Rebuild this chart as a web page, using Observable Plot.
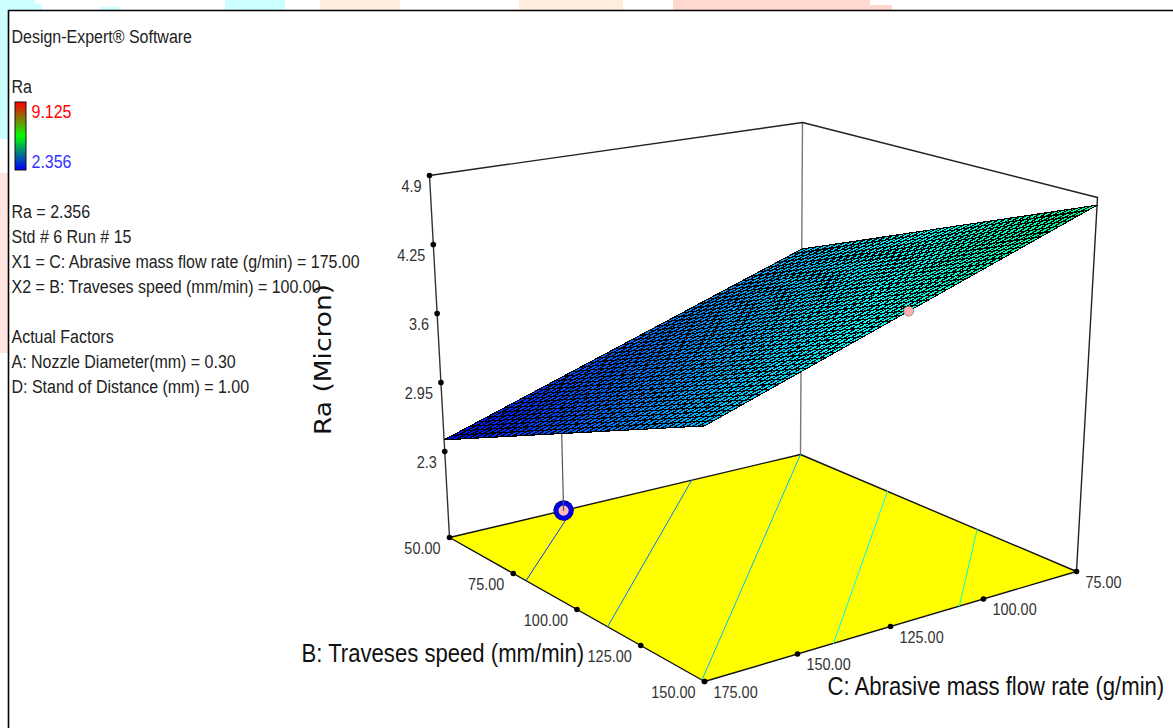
<!DOCTYPE html>
<html>
<head>
<meta charset="utf-8">
<script src="https://cdn.jsdelivr.net/npm/d3@7"></script>
<script src="https://cdn.jsdelivr.net/npm/@observablehq/plot@0.6"></script>
<style>
html,body{margin:0;padding:0;background:#fff}
svg{display:block}
</style>
</head>
<body>
<div id="chart"></div>
<script>
// ---- values ----
const bTicks = [50, 75, 100, 125, 150];
const cTicks = [175, 150, 125, 100, 75];
const zTicks = [2.3, 2.95, 3.6, 4.25, 4.9];
const zTickLabels = ["2.3", "2.95", "3.6", "4.25", "4.9"];
const raAtB50 = [2.41, 3.60];   // Ra at C = 175, C = 75
const raAtB150 = [3.59, 4.83];  // Ra at C = 175, C = 75
const zFloor = 1.49;
const contourLevels = [2.77, 3.15, 3.6, 4.0, 4.4];
const contourStartB = [80, 112, 149, 150, 150];
const contourStartC = [175, 175, 175, 140.3, 106.5];
const contourEndB = [50, 50, 50, 81.5, 114];
const contourEndC = [139.7, 106, 75, 75, 75];
const designB = [50, 150];
const designC = [142.5, 123];
const panelLines = ["Design-Expert® Software", "", "Ra", "9.125", "", "2.356", "",
  "Ra = 2.356", "Std # 6 Run # 15", "X1 = C: Abrasive mass flow rate (g/min) = 175.00",
  "X2 = B: Traveses speed (mm/min) = 100.00", "", "Actual Factors",
  "A: Nozzle Diameter(mm) = 0.30", "D: Stand of Distance (mm) = 1.00"];
const legendMin = 2.356, legendMax = 9.125;

// ---- view of the box: screen position of the box corners [C=175, C=75] ----
const floorX = {50: [449, 800], 150: [704, 1076]};
const floorY = {50: [537, 454], 150: [681, 571]};
const roofX = {50: [429, 802], 150: [704, 1097]};
const roofY = {50: [175, 122], 150: [266, 197]};
const lerp = (a, b, t) => a + (b - a) * t;
function project(b, c, z) {
  const u = (b - 50) / 100, v = (175 - c) / 100, w = (z - zFloor) / (4.9 - zFloor);
  const bl = (t) => lerp(lerp(t[50][0], t[50][1], v), lerp(t[150][0], t[150][1], v), u);
  return [lerp(bl(floorX), bl(roofX), w), lerp(bl(floorY), bl(roofY), w)];
}
const pt = (b, c, z, extra = {}) => { const [x, y] = project(b, c, z); return {x, y, ...extra}; };
const raAt = (b, c) => {
  const u = (b - 50) / 100, v = (175 - c) / 100;
  return lerp(lerp(raAtB50[0], raAtB50[1], v), lerp(raAtB150[0], raAtB150[1], v), u);
};
// The surface is a plane, so its edges stay straight on screen.
const sLeft = project(50, 175, raAtB50[0]), sBack = project(50, 75, raAtB50[1]);
const sFront = project(150, 175, raAtB150[0]), sRight = project(150, 75, raAtB150[1]);
const surfPt = (b, c, extra = {}) => {
  const u = (b - 50) / 100, v = (175 - c) / 100;
  const f = (k) => lerp(lerp(sLeft[k], sBack[k], v), lerp(sFront[k], sRight[k], v), u);
  return {x: f(0), y: f(1), ...extra};
};
const surfaceColor = d3.scaleLinear().domain([2.356, 4.05, 5.74, 7.43, 9.125])
  .range(["#0000ff", "#00ffff", "#00ff00", "#ffff00", "#ff0000"]);
const legendColor = d3.scaleLinear().domain([2.356, 5.74, 9.125]).range(["#0000ff", "#00ff00", "#ff0000"]);

// ---- surface mesh ----
const N = 42;
const cells = [], meshLines = [];
for (let i = 0; i < N; i++) for (let j = 0; j < N; j++) {
  const b0 = 50 + 100 * i / N, b1 = 50 + 100 * (i + 1) / N, c0 = 175 - 100 * j / N, c1 = 175 - 100 * (j + 1) / N;
  const col = surfaceColor(raAt((b0 + b1) / 2, (c0 + c1) / 2));
  for (const [b, c] of [[b0, c0], [b1, c0], [b1, c1], [b0, c1]])
    cells.push(surfPt(b, c, {id: i * N + j, col}));
}
for (let i = 0; i <= N; i++) {
  meshLines.push(surfPt(50 + i, 175, {id: "b" + i}), surfPt(50 + i, 75, {id: "b" + i}));
  meshLines.length -= 2;
  const b = 50 + 100 * i / N, c = 175 - 100 * i / N;
  meshLines.push(surfPt(b, 175, {id: "b" + i}), surfPt(b, 75, {id: "b" + i}));
  meshLines.push(surfPt(50, c, {id: "c" + i}), surfPt(150, c, {id: "c" + i}));
}

// ---- box and floor ----
const floorPoly = [[50, 175], [150, 175], [150, 75], [50, 75], [50, 175]].map(([b, c]) => pt(b, c, zFloor));
const roofEdge = [[50, 175], [50, 75], [150, 75]].map(([b, c]) => pt(b, c, 4.9));
const verticals = [[50, 175, "#333"], [50, 75, "#777"], [150, 75, "#222"]].flatMap(([b, c, s], i) =>
  [pt(b, c, zFloor, {id: i, s}), pt(b, c, 4.9, {id: i, s})]);
const contours = contourLevels.flatMap((lv, i) => [
  pt(contourStartB[i], contourStartC[i], zFloor, {id: i, col: surfaceColor(lv)}),
  pt(contourEndB[i], contourEndC[i], zFloor, {id: i, col: surfaceColor(lv)})
]);
const zDots = zTicks.map((z, i) => pt(50, 175, z, {label: zTickLabels[i]}));
const bDots = bTicks.map(b => pt(b, 175, zFloor, {label: b.toFixed(2)}));
const cDots = cTicks.map(c => pt(150, c, zFloor, {label: c.toFixed(2)}));
const surfaceDesign = surfPt(designB[1], designC[1]);
const floorDesign = pt(designB[0], designC[0], zFloor);
const droplineRows = [surfPt(designB[0], designC[0]), floorDesign];

// ---- page decoration strips behind the chart frame ----
const strips = [
  {x1: 0, x2: 35, y1: 0, y2: 10, f: "#ccffff"}, {x1: 35, x2: 42, y1: 4, y2: 10, f: "#ccffff"},
  {x1: 100, x2: 120, y1: 7, y2: 10, f: "#ccffff"},
  {x1: 225, x2: 285, y1: 0, y2: 10, f: "#ccffff"}, {x1: 320, x2: 400, y1: 0, y2: 10, f: "#ffeedd"},
  {x1: 519, x2: 623, y1: 0, y2: 10, f: "#ffeedd"}, {x1: 673, x2: 870, y1: 0, y2: 10, f: "#ffd8d0"},
  {x1: 870, x2: 892, y1: 5, y2: 10, f: "#ffd8d0"},
  {x1: 0, x2: 8, y1: 10, y2: 139, f: "#ccffff"}, {x1: 0, x2: 8, y1: 173, y2: 353, f: "#ffe4e0"}
];

// ---- left panel ----
const panelLeft = 11, panelTop = 37, panelStep = 25;
const panelRows = panelLines.map((t, i) => ({t, i})).filter(d => d.t);
const legendSteps = d3.range(0, 68).map(i => ({i, v: lerp(legendMax, legendMin, i / 67)}));

const base = "'Liberation Sans',Arial,sans-serif";
const plot = Plot.plot({
  width: 1173, height: 728, margin: 0,
  x: {domain: [0, 1173], range: [0, 1173], axis: null},
  y: {domain: [0, 728], range: [0, 728], axis: null},
  color: {type: "identity"},
  style: {background: "#fff", fontFamily: base},
  marks: [
    Plot.rect(strips, {x1: "x1", x2: "x2", y1: "y1", y2: "y2", fill: "f"}),
    Plot.ruleY([10], {x1: 8, x2: 1173, stroke: "#000", strokeWidth: 1.6}),
    Plot.ruleX([8], {y1: 10, y2: 728, stroke: "#000", strokeWidth: 1.6}),

    // box
    Plot.line(verticals, {x: "x", y: "y", z: "id", stroke: "s", strokeWidth: 1.4}),
    Plot.line(roofEdge, {x: "x", y: "y", stroke: "#222", strokeWidth: 1.4}),
    Plot.line(floorPoly, {x: "x", y: "y", fill: "#ffff00", stroke: "#111", strokeWidth: 1.4}),
    Plot.line(contours, {x: "x", y: "y", z: "id", stroke: "col", strokeWidth: 1}),
    Plot.dot(bDots, {x: "x", y: "y", r: 2.8, fill: "#000"}),
    Plot.dot(cDots, {x: "x", y: "y", r: 2.8, fill: "#000"}),
    Plot.dot(zDots, {x: "x", y: "y", r: 2.8, fill: "#000"}),

    // design point on the floor
    Plot.dot([floorDesign], {x: "x", y: "y", r: 10.2, fill: "#000050", stroke: "none"}),
    Plot.dot([floorDesign], {x: "x", y: "y", r: 7.4, fill: "#ffb8b8", stroke: "#0000e0", strokeWidth: 4.6}),
    Plot.line(droplineRows, {x: "x", y: "y", stroke: "#555", strokeWidth: 1.2}),

    // surface
    Plot.line(cells, {x: "x", y: "y", z: "id", fill: "col", stroke: null, shapeRendering: "crispEdges"}),
    Plot.line(meshLines, {x: "x", y: "y", z: "id", stroke: "#000", strokeWidth: 1.1, shapeRendering: "crispEdges"}),
    Plot.dot([surfaceDesign], {x: "x", y: "y", r: 5, fill: "#ffb0b0", stroke: "#555", strokeWidth: 0.5}),

    // tick labels
    Plot.text(zDots, {x: "x", y: "y", text: "label", textAnchor: "end", dx: -8, dy: 11, fontSize: 17, fill: "#333", className: "squeeze-tick"}),
    Plot.text(bDots, {x: "x", y: "y", text: "label", textAnchor: "end", dx: -9, dy: 11, fontSize: 17, fill: "#333", className: "squeeze-tick"}),
    Plot.text(cDots, {x: "x", y: "y", text: "label", textAnchor: "start", dx: 9, dy: 11, fontSize: 17, fill: "#333", className: "squeeze-tick"}),

    // axis titles
    Plot.text(["B: Traveses speed (mm/min)"], {x: 301, y: 653, text: d => d, textAnchor: "start", fontSize: 25, fill: "#111", className: "squeeze-title"}),
    Plot.text(["C: Abrasive mass flow rate (g/min)"], {x: 827, y: 686, text: d => d, textAnchor: "start", fontSize: 25, fill: "#111", className: "squeeze-title"}),
    Plot.text(["Ra (Micron)"], {x: 323, y: 359, text: d => d, rotate: -90, fontSize: 23, fontFamily: "'DejaVu Sans',sans-serif", fill: "#111", className: "stretch-z"}),

    // panel
    Plot.rect(legendSteps, {x1: 15, x2: 26, y1: d => 102 + d.i, y2: d => 103 + d.i, fill: d => legendColor(d.v)}),
    Plot.rect([0], {x1: 15, x2: 26, y1: 102, y2: 170, fill: "none", stroke: "#111", strokeWidth: 1}),
    Plot.text(panelRows, {
      x: d => (d.t === "9.125" || d.t === "2.356") ? panelLeft + 20 : panelLeft,
      y: d => panelTop + d.i * panelStep,
      text: "t", textAnchor: "start", fontSize: 18, className: "squeeze-panel",
      fill: d => d.t === "9.125" ? "#ff0000" : d.t === "2.356" ? "#3333ff" : "#222"
    })
  ]
});
document.getElementById("chart").append(plot);

// The reference's type is condensed; scale each text along its baseline.
const widthFactor = {"squeeze-tick": 0.85, "squeeze-title": 0.885, "squeeze-panel": 0.888, "stretch-z": 1.15};
for (const [cls, k] of Object.entries(widthFactor)) {
  plot.querySelectorAll("." + cls + " text").forEach(t => {
    const tr = t.getAttribute("transform") || "";
    t.setAttribute("transform", (tr + ` scale(${k},1)`).trim());
  });
}
</script>
</body>
</html>
